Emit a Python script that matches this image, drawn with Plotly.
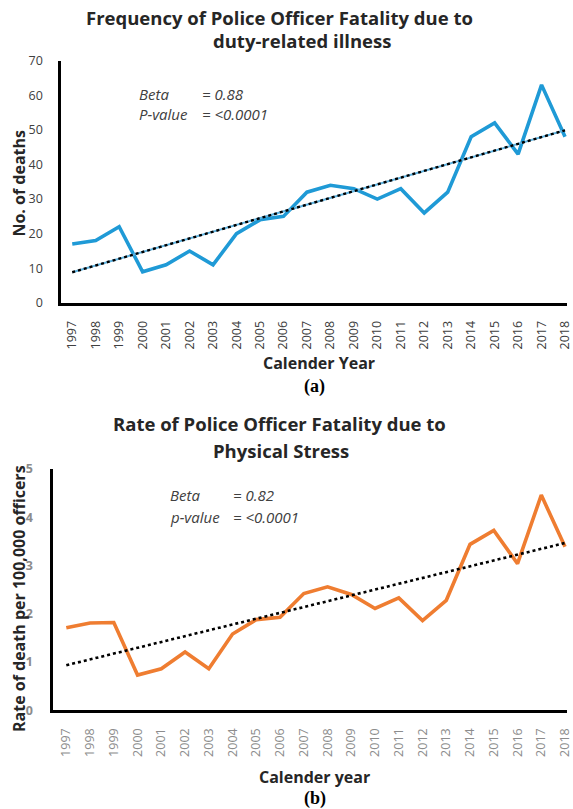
import numpy as np
import plotly.graph_objects as go

W, H = 573, 809
# vertical correction measured from previous renders (page renders slightly squeezed)
VS, VO = 0.978, 8.4

years = list(range(1997, 2019))
year_labels = [str(y) for y in years]

deaths = [17, 18, 22, 9, 11, 15, 11, 20, 24, 25, 32, 34, 33, 30, 33, 26, 32, 48, 52, 43, 63, 48]
rates = [1.71, 1.81, 1.82, 0.73, 0.86, 1.21, 0.86, 1.58, 1.88, 1.93, 2.42, 2.56, 2.40, 2.11,
         2.33, 1.86, 2.28, 3.44, 3.73, 3.04, 4.46, 3.39]

title_a = ["Frequency of Police Officer Fatality due to", "duty-related illness"]
title_b = ["Rate of Police Officer Fatality due to", "Physical Stress"]
stats_a = [("Beta", "= 0.88"), ("P-value", "= <0.0001")]
stats_b = [("Beta", "= 0.82"), ("p-value", "= <0.0001")]

FONT = "Open Sans"
BLUE = "#1f9ad6"
ORANGE = "#ef7d31"
DARK = "#262626"


def px(x):
    return x / W


def py(y):
    return 1 - ((y - VO) / VS) / H


def trend(vals):
    k, b = np.polyfit(years, vals, 1)
    return [k * y + b for y in years]


fig = go.Figure()

# chart (a)
fig.add_trace(go.Scatter(x=years, y=deaths, mode="lines", line=dict(color=BLUE, width=3.6),
                         xaxis="x", yaxis="y", showlegend=False, cliponaxis=False))
ta = trend(deaths)
fig.add_trace(go.Scatter(x=years, y=ta, mode="lines", line=dict(color="#5fb3e0", width=2),
                         xaxis="x", yaxis="y", showlegend=False))
fig.add_trace(go.Scatter(x=years, y=ta, mode="lines", line=dict(color="black", width=2.4, dash="dot"),
                         xaxis="x", yaxis="y", showlegend=False))

# chart (b)
fig.add_trace(go.Scatter(x=years, y=rates, mode="lines", line=dict(color=ORANGE, width=3.6),
                         xaxis="x2", yaxis="y2", showlegend=False, cliponaxis=False))
tb = trend(rates)
fig.add_trace(go.Scatter(x=years, y=tb, mode="lines", line=dict(color="black", width=2.6, dash="dot"),
                         xaxis="x2", yaxis="y2", showlegend=False))

axis_common = dict(showgrid=False, zeroline=False, showline=True, linecolor="black",
                   linewidth=3, ticks="", fixedrange=True)

fig.update_layout(
    width=W, height=H,
    margin=dict(l=0, r=0, t=0, b=0),
    paper_bgcolor="white", plot_bgcolor="white",
    font=dict(family=FONT, color=DARK),
    xaxis=dict(domain=[px(62), 1], anchor="y", range=[1996.536, 2018.084],
               tickmode="array", tickvals=years, ticktext=year_labels, tickangle=-90,
               ticklabeloverflow="allow",
               tickfont=dict(size=12.5, color="#404040"), ticklabelstandoff=10, **axis_common),
    yaxis=dict(domain=[py(302), py(60)], anchor="x", range=[0, 70], dtick=10,
               tickfont=dict(size=12.5, color="#404040"), ticklabelstandoff=13, **axis_common),
    xaxis2=dict(domain=[px(54), 1], anchor="y2", range=[1996.458, 2018.083],
                tickmode="array", tickvals=years, ticktext=year_labels, tickangle=-90,
                ticklabeloverflow="allow",
                tickfont=dict(size=12.5, color="#8c8c8c"), ticklabelstandoff=10, **axis_common),
    yaxis2=dict(domain=[py(709), py(468)], anchor="x2", range=[0, 5], dtick=1,
                tickfont=dict(size=12.5, color="#8c8c8c", weight="bold"), ticklabelstandoff=15,
                **axis_common),
)

ann = []


def text(x, y, s, size, bold=True, italic=False, color=DARK, xanchor="center", family=FONT,
         angle=0):
    ann.append(dict(x=px(x), y=py(y), xref="paper", yref="paper", text=s, showarrow=False,
                    xanchor=xanchor, yanchor="middle", textangle=angle,
                    font=dict(size=size, color=color, family=family,
                              weight="bold" if bold else "normal",
                              style="italic" if italic else "normal")))


# titles
text(282, 17, title_a[0], 18.5)
text(305, 40, title_a[1], 18.5)
text(282, 422, title_b[0], 18.5)
text(284, 449, title_b[1], 18.5)

# stats
for i, (k, v) in enumerate(stats_a):
    text(138, 93 + i * 20, k, 15, bold=False, italic=True, color="#404040", xanchor="left")
    text(202, 93 + i * 20, v, 15, bold=False, italic=True, color="#404040", xanchor="left")
for i, (k, v) in enumerate(stats_b):
    text(170, 494 + i * 22, k, 15, bold=False, italic=True, color="#404040", xanchor="left")
    text(233, 494 + i * 22, v, 15, bold=False, italic=True, color="#404040", xanchor="left")

# axis titles
text(19, 182, "No. of deaths", 16, angle=-90)
text(322, 362, "Calender Year", 16)
text(19, 597, "Rate of death per 100,000 officers", 16, angle=-90)
text(318, 776, "Calender year", 16)

# panel labels
text(318, 386, "(a)", 18, family="Liberation Serif", color="black")
text(318, 797, "(b)", 18, family="Liberation Serif", color="black")

fig.update_layout(annotations=ann)

fig.write_html(
    "out.html",
    config={"displayModeBar": False},
    post_script=("document.body.style.margin='0';"
                 "document.body.style.overflow='hidden';"
                 "document.documentElement.style.overflow='hidden';"),
)
